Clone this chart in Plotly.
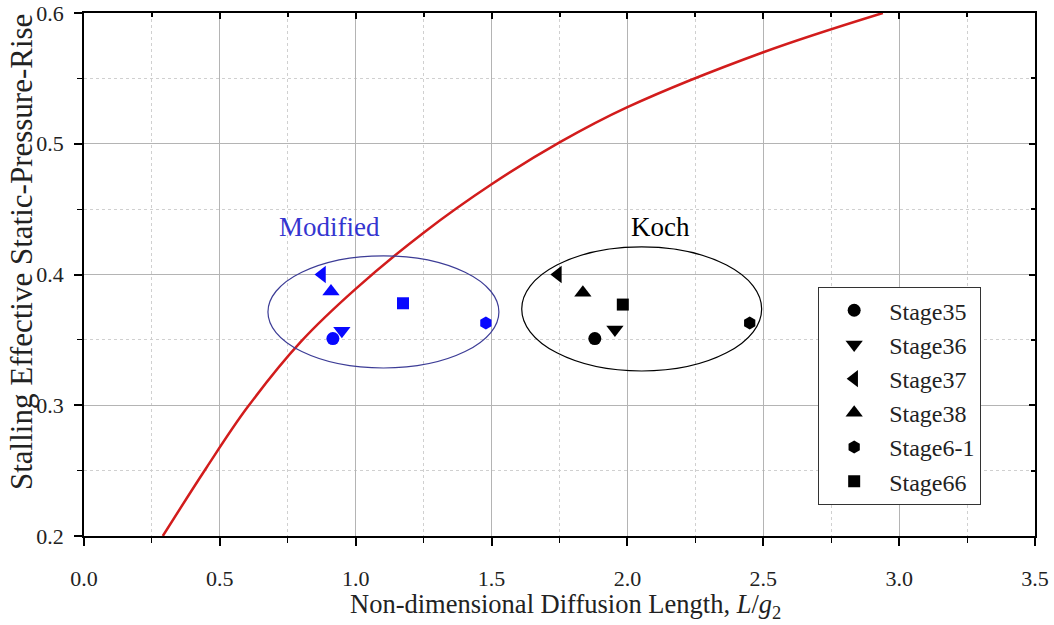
import plotly.graph_objects as go

# ---- data ----
stages = ["Stage35", "Stage36", "Stage37", "Stage38", "Stage6-1", "Stage66"]
symbols = ["circle", "triangle-down", "triangle-left", "triangle-up", "hexagon", "square"]
sizes = [13, 15, 15, 15, 13, 12]

koch_x = [1.880, 1.954, 1.744, 1.836, 2.450, 1.983]
koch_y = [0.351, 0.358, 0.400, 0.386, 0.363, 0.377]

mod_x = [0.916, 0.949, 0.876, 0.909, 1.479, 1.174]
mod_y = [0.351, 0.357, 0.400, 0.387, 0.363, 0.378]

curve_x = [0.29, 0.45, 0.60, 0.80, 1.00, 1.25, 1.50, 1.75, 2.00, 2.50, 2.94]
curve_y = [0.200, 0.252, 0.298, 0.349, 0.389, 0.432, 0.469, 0.501, 0.528, 0.570, 0.600]

# ellipse bounds (data coords)
mod_ellipse = (0.677, 1.527, 0.3285, 0.4143)
koch_ellipse = (1.611, 2.494, 0.3262, 0.4211)

FONT = "Liberation Serif, Times New Roman, serif"

fig = go.Figure()

fig.add_trace(go.Scatter(x=curve_x, y=curve_y, mode="lines",
                         line=dict(color="#d21c1c", width=2.5, shape="spline", smoothing=1),
                         showlegend=False, hoverinfo="skip"))

for i, name in enumerate(stages):
    fig.add_trace(go.Scatter(x=[mod_x[i]], y=[mod_y[i]], mode="markers",
                             marker=dict(symbol=symbols[i], size=sizes[i], color="#0808ff"),
                             showlegend=False, name=name + " (Modified)"))

for i, name in enumerate(stages):
    fig.add_trace(go.Scatter(x=[koch_x[i]], y=[koch_y[i]], mode="markers",
                             marker=dict(symbol=symbols[i], size=sizes[i], color="black"),
                             name=name, legendgroup=name))

# empty trace that creates the mirrored top/right axes
fig.add_trace(go.Scatter(x=[], y=[], xaxis="x2", yaxis="y2", showlegend=False, hoverinfo="skip"))

fig.add_shape(type="circle", xref="x", yref="y",
              x0=mod_ellipse[0], x1=mod_ellipse[1], y0=mod_ellipse[2], y1=mod_ellipse[3],
              line=dict(color="#3c3c96", width=1.2))
fig.add_shape(type="circle", xref="x", yref="y",
              x0=koch_ellipse[0], x1=koch_ellipse[1], y0=koch_ellipse[2], y1=koch_ellipse[3],
              line=dict(color="black", width=1.2))

fig.add_annotation(x=0.905, y=0.436, text="Modified", showarrow=False,
                   font=dict(family=FONT, size=27, color="#3535d0"))
fig.add_annotation(x=2.12, y=0.436, text="Koch", showarrow=False,
                   font=dict(family=FONT, size=27, color="black"))
# axis titles placed as in the reference
fig.add_annotation(xref="paper", yref="paper", x=0, y=0.543, xshift=-63, textangle=-90,
                   text="Stalling Effective Static-Pressure-Rise", showarrow=False,
                   xanchor="center", yanchor="middle",
                   font=dict(family=FONT, size=31, color="#222"))
fig.add_annotation(xref="paper", yref="paper", x=0.506, y=0, yshift=-70,
                   text="Non-dimensional Diffusion Length, <i>L</i>/<i>g</i><sub>2</sub>", showarrow=False,
                   xanchor="center", yanchor="middle",
                   font=dict(family=FONT, size=26.5, color="#222"))

fig.update_layout(
    width=1054, height=625,
    margin=dict(l=84, r=19, t=13, b=89, autoexpand=False),
    plot_bgcolor="white", paper_bgcolor="white",
    font=dict(family=FONT, color="#222"),
    xaxis=dict(range=[0, 3.5], dtick=0.5, tick0=0, tickformat=".1f", automargin=False,
               showline=True, linecolor="black", linewidth=1.5, zeroline=False,
               tickfont=dict(family=FONT, size=22, color="#222"), ticklabelstandoff=14,
               ticks="outside", ticklen=8, tickwidth=1.5, tickcolor="black",
               showgrid=True, gridcolor="#b4b4b4", gridwidth=1,
               minor=dict(dtick=0.25, tick0=0, showgrid=True, gridcolor="#d0d0d0", griddash="dot",
                          ticks="outside", ticklen=5, tickcolor="black", tickwidth=1.2)),
    yaxis=dict(range=[0.2, 0.6], dtick=0.1, tick0=0.2, tickformat=".1f", automargin=False,
               showline=True, linecolor="black", linewidth=1.5, zeroline=False,
               tickfont=dict(family=FONT, size=22, color="#222"), ticklabelstandoff=6,
               ticks="outside", ticklen=8, tickwidth=1.5, tickcolor="black",
               showgrid=True, gridcolor="#b4b4b4", gridwidth=1,
               minor=dict(dtick=0.05, tick0=0.2, showgrid=True, gridcolor="#d0d0d0", griddash="dot",
                          ticks="outside", ticklen=5, tickcolor="black", tickwidth=1.2)),
    xaxis2=dict(range=[0, 3.5], dtick=0.5, tick0=0, overlaying="x", side="top", anchor="y2",
                automargin=False,
                showline=True, linecolor="black", linewidth=1.5, showticklabels=False,
                ticks="inside", ticklen=6, tickwidth=1.5, tickcolor="black", showgrid=False, zeroline=False,
                minor=dict(dtick=0.25, tick0=0, ticks="inside", ticklen=4, tickcolor="black", showgrid=False)),
    yaxis2=dict(range=[0.2, 0.6], dtick=0.1, tick0=0.2, overlaying="y", side="right", anchor="x2",
                automargin=False,
                showline=True, linecolor="black", linewidth=1.5, showticklabels=False,
                ticks="inside", ticklen=6, tickwidth=1.5, tickcolor="black", showgrid=False, zeroline=False,
                minor=dict(dtick=0.05, tick0=0.2, ticks="inside", ticklen=4, tickcolor="black", showgrid=False)),
    legend=dict(x=0.772, y=0.059, xanchor="left", yanchor="bottom",
                bgcolor="white", bordercolor="#333", borderwidth=1,
                font=dict(family=FONT, size=24, color="#222"),
                tracegroupgap=0, itemwidth=60),
    showlegend=True,
)

fig.write_html("out.html")
